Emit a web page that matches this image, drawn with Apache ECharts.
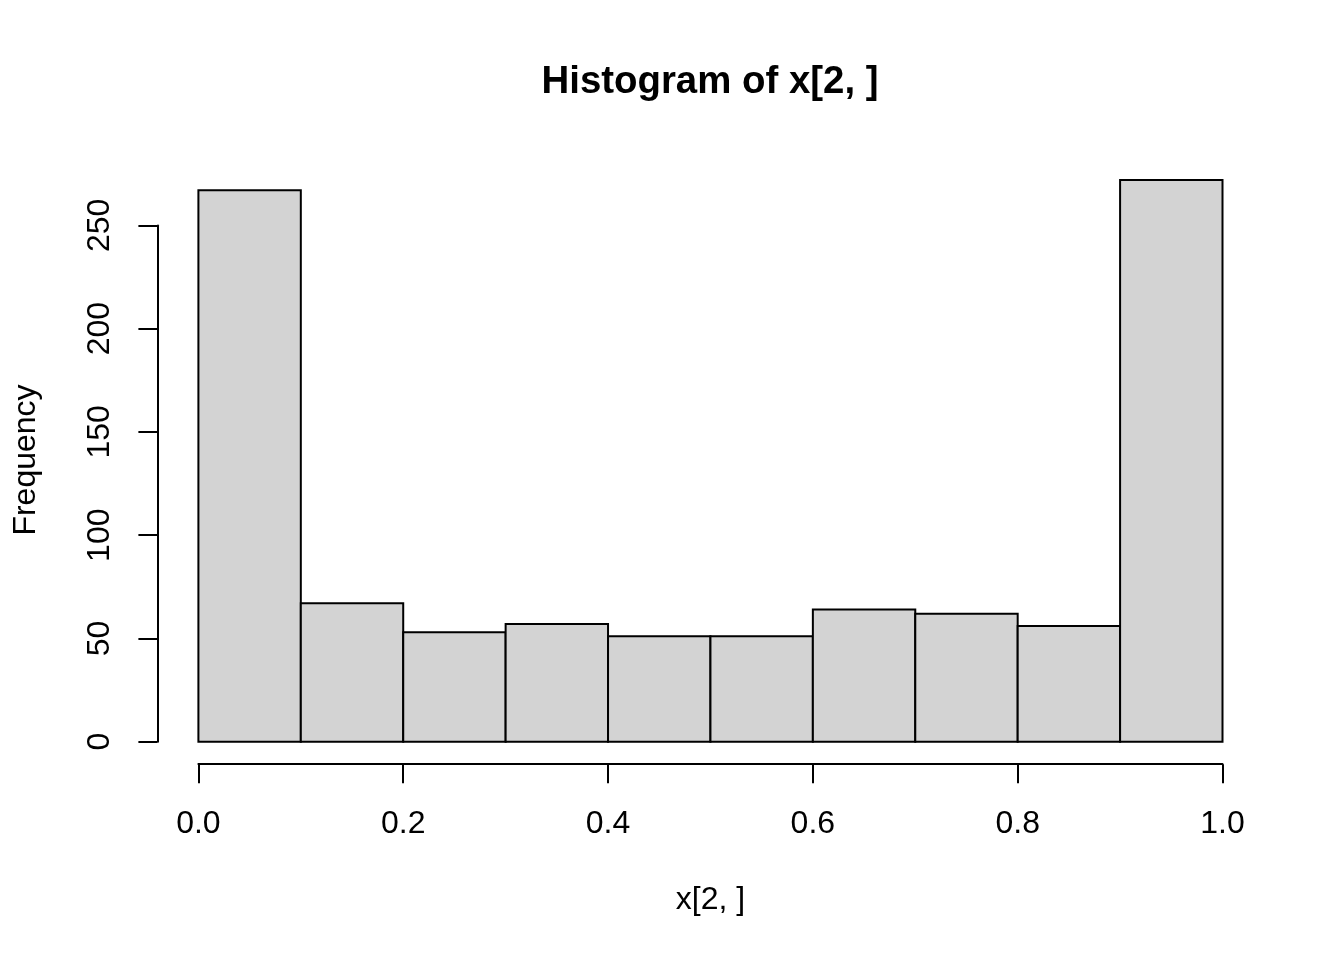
<!DOCTYPE html>
<html>
<head>
<meta charset="utf-8">
<title>Histogram of x[2, ]</title>
<script src="https://cdn.jsdelivr.net/npm/echarts@6/dist/echarts.min.js"></script>
<style>
  html, body { margin: 0; padding: 0; background: #fff; }
  #chart { width: 1344px; height: 960px; }
</style>
</head>
<body>
<div id="chart"></div>
<script>
// histogram bins: edges and counts per bin
var breaks = [0, 0.1, 0.2, 0.3, 0.4, 0.5, 0.6, 0.7, 0.8, 0.9, 1.0];
var counts = [267, 67, 53, 57, 51, 51, 64, 62, 56, 272];
var xTicks = [0, 0.2, 0.4, 0.6, 0.8, 1.0];
var yTicks = [0, 50, 100, 150, 200, 250];

var FONT = '"Liberation Sans", Arial, Helvetica, sans-serif';

var bins = counts.map(function (c, i) {
    return [breaks[i], breaks[i + 1], c];
});

var chart = echarts.init(document.getElementById('chart'));

chart.setOption({
    backgroundColor: '#fff',
    animation: false,
    title: {
        text: 'Histogram of x[2, ]',
        left: 705,
        textAlign: 'center',
        top: 58,
        textStyle: { fontFamily: FONT, fontSize: 38.4, fontWeight: 'bold', color: '#000' }
    },
    // y label sits at the middle of the whole plot region, not of the axis line
    graphic: [{
        type: 'text',
        x: 26,
        y: 460,
        rotation: Math.PI / 2,
        style: {
            text: 'Frequency',
            fontFamily: FONT, fontSize: 32, fill: '#000',
            align: 'center', verticalAlign: 'middle'
        }
    }],
    grid: { left: 198.4, width: 1024.1, top: 225.4, height: 516.3 },
    xAxis: {
        type: 'value',
        min: xTicks[0],
        max: xTicks[xTicks.length - 1],
        interval: 0.2,
        offset: 22.5,
        name: 'x[2, ]',
        nameLocation: 'middle',
        nameGap: 120,
        nameTextStyle: { fontFamily: FONT, fontSize: 32, color: '#000' },
        axisLine: { onZero: false, lineStyle: { color: '#000', width: 2 } },
        axisTick: { length: 19, lineStyle: { color: '#000', width: 2 } },
        axisLabel: {
            margin: 44,
            fontFamily: FONT, fontSize: 32, color: '#000',
            formatter: function (v) { return v.toFixed(1); }
        },
        splitLine: { show: false }
    },
    yAxis: {
        type: 'value',
        min: yTicks[0],
        max: yTicks[yTicks.length - 1],
        interval: 50,
        offset: 41,
        axisLine: { show: true, onZero: false, lineStyle: { color: '#000', width: 2 } },
        axisTick: { show: true, length: 19, lineStyle: { color: '#000', width: 2 } },
        axisLabel: {
            rotate: 90,
            margin: 41,
            fontFamily: FONT, fontSize: 32, color: '#000'
        },
        splitLine: { show: false }
    },
    series: [{
        type: 'custom',
        clip: false,
        data: bins,
        renderItem: function (params, api) {
            var topLeft = api.coord([api.value(0), api.value(2)]);
            var bottomRight = api.coord([api.value(1), 0]);
            return {
                type: 'rect',
                shape: {
                    x: topLeft[0],
                    y: topLeft[1],
                    width: bottomRight[0] - topLeft[0],
                    height: bottomRight[1] - topLeft[1]
                },
                style: { fill: '#d3d3d3', stroke: '#000', lineWidth: 2 }
            };
        }
    }]
});
</script>
</body>
</html>
